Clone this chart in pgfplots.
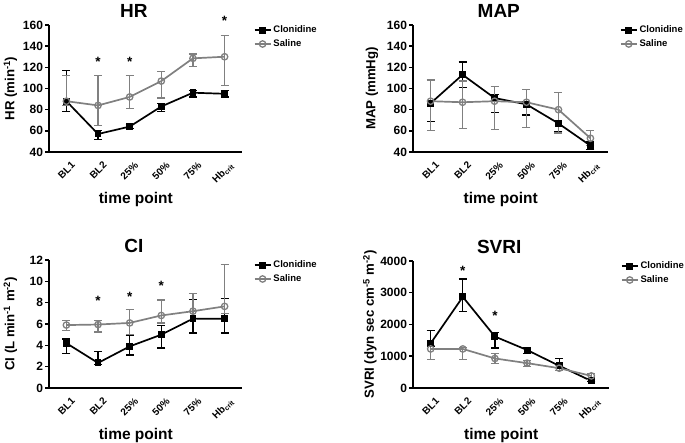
\documentclass[border=0pt]{standalone}
\usepackage{pgfplots}
\pgfplotsset{compat=1.18}
\usepackage{fontspec}
\setmainfont{Liberation Sans}
\definecolor{salgray}{RGB}{128,128,128}
\pgfplotsset{
  panel/.style={
    scale only axis,
    axis x line=bottom, axis y line=left,
    axis line style={-, line width=1.8pt, black},
    xmin=-0.55, xmax=5.55,
    xtick={0,1,2,3,4,5},
    xticklabels={BL1,BL2,25\%,50\%,75\%,{Hb\textsubscript{crit}}},
    major x tick style={draw=none},
    major y tick style={line width=1.5pt, black},
    tick align=outside,
    major tick length=4pt,
    /pgf/number format/assume math mode=true,
    /pgf/number format/1000 sep={},
    yticklabel style={font=\bfseries\fontsize{12}{14}\selectfont, xshift=1.5pt},
    xticklabel style={rotate=45, anchor=north east, font=\bfseries\fontsize{10}{12}\selectfont, yshift=-3pt, xshift=3pt},
    xlabel={time point},
    xlabel style={at={(axis description cs:0.45,0)}, anchor=center, yshift=-47pt, font=\bfseries\fontsize{15.5}{18}\selectfont},
    ylabel style={at={(axis description cs:-0.2,0.5)}, anchor=center, rotate=0, font=\bfseries\fontsize{13.2}{15}\selectfont},
    title style={at={(axis description cs:0.44,1)}, anchor=base, yshift=1pt, font=\bfseries\fontsize{19}{22}\selectfont},
    clip=false,
    legend style={at={(axis description cs:1.06,1.01)}, anchor=north west, draw=none, fill=none,
      font=\bfseries\fontsize{9.5}{11}\selectfont, row sep=1.5pt, inner sep=0pt},
    legend cell align=left,
    legend image code/.code={
      \draw[mark repeat=2,mark phase=2] plot coordinates {(0cm,0cm) (0.28cm,0cm) (0.56cm,0cm)};
    },
  },
  clon/.style={black, line width=1.7pt, mark=square*, mark size=2.6pt,
    mark options={solid, fill=black},
    error bars/.cd, y dir=both, y explicit,
    error bar style={line width=1.2pt, black},
    error mark options={rotate=90, mark size=4pt, line width=1.2pt, black}},
  sal/.style={salgray, line width=1.7pt, mark=o, mark size=3.2pt,
    mark options={solid, fill=white, line width=1.3pt},
    error bars/.cd, y dir=both, y explicit,
    error bar style={line width=1.2pt, salgray},
    error mark options={rotate=90, mark size=4pt, line width=1.2pt, salgray}},
}
\newcommand{\sigstar}[1]{\node[font=\bfseries\fontsize{13.5}{14}\selectfont] at (#1) {*};}
\begin{document}
\begin{tikzpicture}[x=1pt,y=1pt]
\path[use as bounding box] (0,0) rectangle (685,443);

% HR
\begin{axis}[panel, at={(49pt,291pt)}, anchor=south west, width=193pt, height=127pt,
  ymin=40, ymax=160, ytick={40,60,80,100,120,140,160},
  title={HR}, ylabel={HR (min\textsuperscript{-1})}]
\addplot[clon] table[x=x,y=y,y error plus=ep,y error minus=em] {
x y ep em
0 88 29 10
1 57 3 5
2 64 2 2
3 83 3 5
4 96 2 4
5 95 3 3
};
\addlegendentry{Clonidine}
\addplot[sal] table[x=x,y=y,y error plus=ep,y error minus=em] {
x y ep em
0 88 24 4
1 84 28 19
2 92 20 11
3 107 9 16
4 128.5 4 8
5 130 20 27
};
\addlegendentry{Saline}
\sigstar{axis cs:1,125}
\sigstar{axis cs:2,125}
\sigstar{axis cs:5,164}
\end{axis}

% MAP
\begin{axis}[panel, at={(413pt,291pt)}, anchor=south west, width=195pt, height=127pt,
  ymin=40, ymax=160, ytick={40,60,80,100,120,140,160},
  title={MAP}, ylabel={MAP (mmHg)}, ylabel style={at={(axis description cs:-0.21,0.5)}}]
\addplot[clon] table[x=x,y=y,y error plus=ep,y error minus=em] {
x y ep em
0 86 3 17
1 113 12 12
2 91 3 14
3 85 3 10
4 67 3 8
5 46 4 4
};
\addlegendentry{Clonidine}
\addplot[sal] table[x=x,y=y,y error plus=ep,y error minus=em] {
x y ep em
0 88 20 28
1 87 20 25
2 88 14 27
3 87 12 24
4 80 16 22
5 53 7 7
};
\addlegendentry{Saline}
\end{axis}

% CI
\begin{axis}[panel, at={(49pt,55pt)}, anchor=south west, width=193pt, height=128pt,
  ymin=0, ymax=12, ytick={0,2,4,6,8,10,12},
  title={CI}, ylabel={CI (L min\textsuperscript{-1} m\textsuperscript{-2})}]
\addplot[clon] table[x=x,y=y,y error plus=ep,y error minus=em] {
x y ep em
0 4.2 0.4 0.95
1 2.35 1.05 0.15
2 3.9 1.0 0.8
3 5.0 0.85 1.25
4 6.5 1.8 1.35
5 6.5 1.9 1.35
};
\addlegendentry{Clonidine}
\addplot[sal] table[x=x,y=y,y error plus=ep,y error minus=em] {
x y ep em
0 5.9 0.4 0.5
1 5.95 0.4 0.7
2 6.1 1.25 1.1
3 6.8 1.45 0.7
4 7.2 1.65 0.8
5 7.65 3.9 0.7
};
\addlegendentry{Saline}
\sigstar{axis cs:1,8.2}
\sigstar{axis cs:2,8.55}
\sigstar{axis cs:3,9.6}
\end{axis}

% SVRI
\begin{axis}[panel, at={(413pt,55pt)}, anchor=south west, width=196pt, height=127pt,
  ymin=0, ymax=4000, ytick={0,1000,2000,3000,4000},
  title={SVRI}, ylabel={SVRI (dyn sec cm\textsuperscript{-5} m\textsuperscript{-2})},
  ylabel style={at={(axis description cs:-0.22,0.5)}}]
\addplot[clon] table[x=x,y=y,y error plus=ep,y error minus=em] {
x y ep em
0 1407 410 100
1 2870 560 450
2 1620 140 360
3 1196 90 100
4 700 240 60
5 222 60 30
};
\addlegendentry{Clonidine}
\addplot[sal] table[x=x,y=y,y error plus=ep,y error minus=em] {
x y ep em
0 1230 100 340
1 1230 50 340
2 930 160 150
3 783 95 105
4 624 95 85
5 381 75 105
};
\addlegendentry{Saline}
\sigstar{axis cs:1,3700}
\sigstar{axis cs:2,2270}
\end{axis}
\end{tikzpicture}
\end{document}
